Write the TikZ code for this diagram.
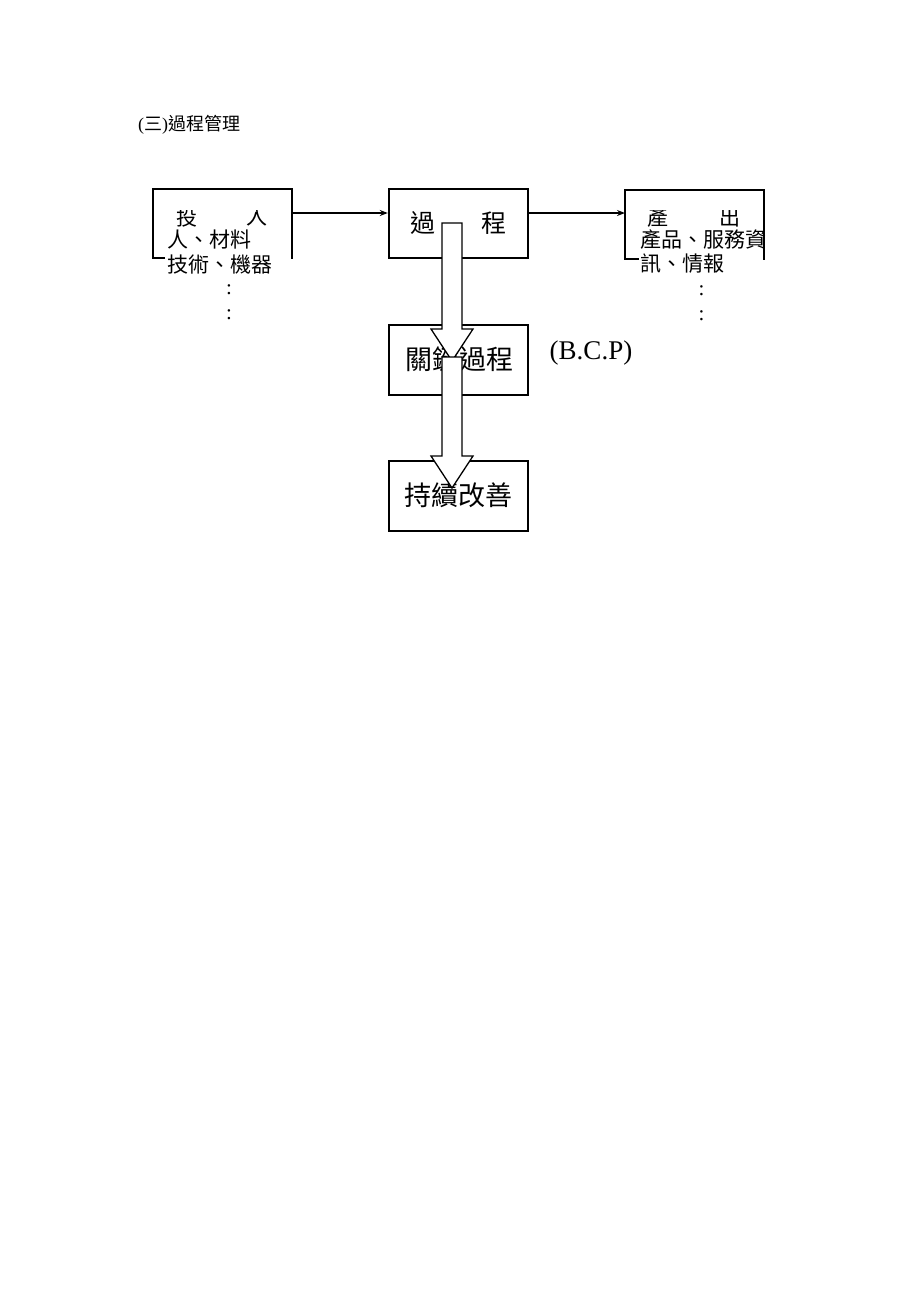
\documentclass[tikz,border=0pt]{standalone}
\usepackage{fontspec}
\setmainfont{Liberation Serif}
\newfontfamily\cjk{Noto Sans CJK TC}
\usetikzlibrary{arrows.meta}
\tikzset{
  boxline/.style={draw=black, line width=2.4pt},
  procbox/.style={boxline, minimum width=139pt, minimum height=69pt, inner sep=0pt},
  txt/.style={inner sep=0pt, font=\cjk\fontsize{21}{21}\selectfont},
  bigtxt/.style={inner sep=0pt, font=\cjk\fontsize{25}{25}\selectfont},
  keytxt/.style={inner sep=0pt, font=\cjk\fontsize{27}{27}\selectfont},
  dots/.style={inner sep=0pt, font=\fontsize{21}{21}\selectfont},
  conn/.style={draw=black, line width=1.5pt, -{Stealth[length=8pt,width=6pt]}},
  blockarrow/.style={draw=black, fill=white, line width=1.3pt, line join=miter},
}
\begin{document}
\begin{tikzpicture}[x=1pt,y=-1pt]
\useasboundingbox (0,0) rectangle (920,1302);
\fill[white] (0,0) rectangle (920,1302);

% title
\node[inner sep=0pt, anchor=west, font=\fontsize{18}{18}\selectfont] (title) at (138,125) {(\cjk 三\rmfamily)\cjk 過程管理};

% input box (partial border)
\coordinate (inTL) at (153,189);
\coordinate (inTR) at (292,189);
\draw[boxline] (165,258) -- (153,258) -- (inTL) -- (inTR) -- (292,227);
\draw[draw=black, line width=1.2pt] (292,226) -- (292,259);
\begin{scope}
  \clip (140,210) rectangle (300,262);
  \node[txt] (in1a) at (186.5,217.5) {投};
  \node[txt] (in1b) at (257,217.5) {入};
\end{scope}
\node[txt, anchor=west] (in2) at (167,240) {人、材料};
\node[txt, anchor=west] (in3) at (167,265) {技術、機器};
\node[dots] (ind1) at (229,290) {:};
\node[dots] (ind2) at (229,315) {:};

% process box
\node[procbox] (proc) at (458.5,223.5) {};
\node[bigtxt] (proc1) at (422.5,223.5) {過};
\node[bigtxt] (proc2) at (493.5,223.5) {程};

% output box (partial border)
\coordinate (outTL) at (625,190);
\coordinate (outTR) at (764,190);
\draw[boxline] (639,259) -- (625,259) -- (outTL) -- (outTR) -- (764,227);
\draw[draw=black, line width=1.2pt] (764,226) -- (764,260);
\begin{scope}
  \clip (615,210) rectangle (775,262);
  \node[txt] (out1a) at (658,217.5) {產};
  \node[txt] (out1b) at (730,217.5) {出};
\end{scope}
\node[txt, anchor=west] (out2) at (640,240) {產品、服務資};
\node[txt, anchor=west] (out3) at (640,264) {訊、情報};
\node[dots] (outd1) at (701.5,291) {:};
\node[dots] (outd2) at (701.5,316) {:};

% connectors
\coordinate (inport) at (292,213);
\coordinate (procport) at (528,213);
\draw[conn] (inport) -- (proc.west |- inport);
\draw[conn] (procport) -- (outTL |- procport);

% key process box
\node[procbox, minimum height=70pt] (key) at (458.5,360) {};
\node[keytxt] (keytext) at (459,359) {關鍵過程};
\node[inner sep=0pt, font=\fontsize{27}{27}\selectfont] (bcp) at (591,353) {(B.C.P)};

% continuous improvement box
\node[procbox, minimum height=70pt] (ci) at (458.5,496) {};
\node[keytxt] (citext) at (458,495) {持續改善};

% block arrows
\draw[blockarrow] (442,223) -- (442,329) -- (431,329) -- (452,361) -- (473,329) -- (462,329) -- (462,223) -- cycle;
\draw[blockarrow] (442,357) -- (442,456) -- (431,456) -- (452,488) -- (473,456) -- (462,456) -- (462,357) -- cycle;
\end{tikzpicture}
\end{document}
